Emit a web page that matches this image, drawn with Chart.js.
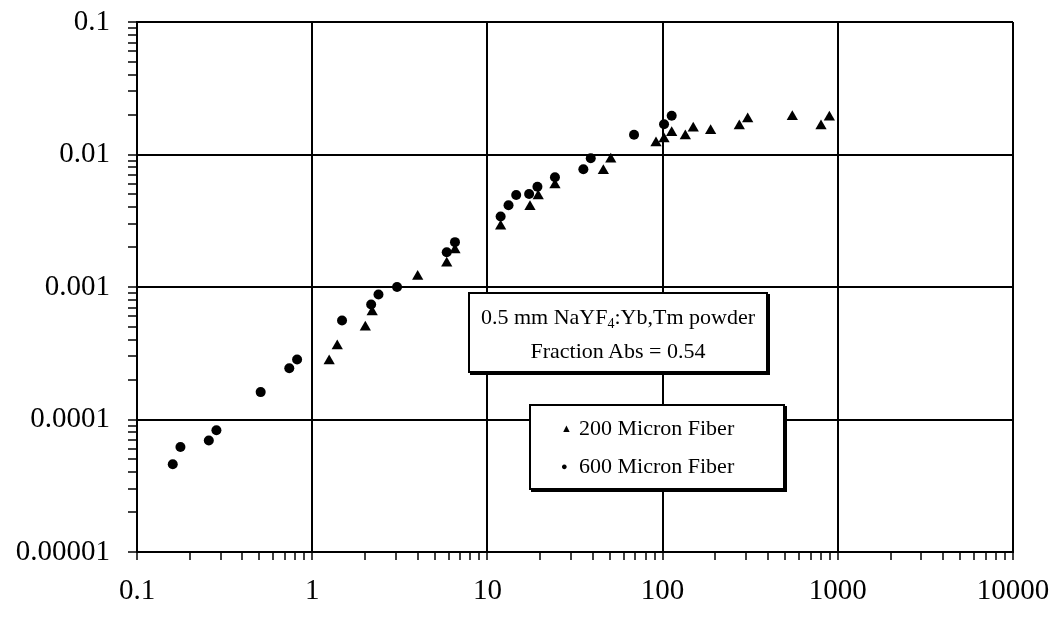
<!DOCTYPE html>
<html>
<head>
<meta charset="utf-8">
<script src="https://cdn.jsdelivr.net/npm/chart.js@4.4.1/dist/chart.umd.min.js"></script>
<style>
  html, body { margin: 0; padding: 0; background: #fff; }
  #wrap { position: relative; width: 1052px; height: 620px; }
  canvas { display: block; }
  .box {
    position: absolute; background: #fff; border: 2px solid #000;
    box-shadow: 2px 2px 0 #000; box-sizing: border-box;
    font-family: "Liberation Serif", "Times New Roman", serif; color: #000;
  }
  #note { left: 468px; top: 292px; width: 300px; height: 81px; font-size: 22px; text-align: center; line-height: 34px; padding-top: 6px; }
  #note sub { font-size: 14px; line-height: 0; vertical-align: -4px; }
  #legend { left: 529px; top: 404px; width: 256px; height: 86px; font-size: 22px; line-height: 37px; padding-top: 3px; padding-left: 30px; }
  .mk { display: inline-block; width: 18px; font-size: 11px; vertical-align: 3px; }
</style>
</head>
<body>
<div id="wrap">
  <canvas id="c" width="1052" height="620"></canvas>
  <div class="box" id="note"></div>
  <div class="box" id="legend"></div>
</div>
<script>
// ---- data ----
const fiber200X = [1.25, 1.39, 2.01, 2.2, 4.0, 5.86, 6.53, 11.9, 17.5, 19.5, 24.3, 45.9, 50.6, 91.7, 101.9, 112.7, 134.8, 149.6, 188, 274, 306, 550, 802, 895];
const fiber200Y = [2.76e-4, 3.58e-4, 4.97e-4, 6.47e-4, 1.2e-3, 1.51e-3, 1.9e-3, 2.88e-3, 4.03e-3, 4.86e-3, 5.88e-3, 7.55e-3, 9.2e-3, 0.0122, 0.0131, 0.0146, 0.0138, 0.0158, 0.0151, 0.0164, 0.0185, 0.0193, 0.0164, 0.0191];
const fiber600X = [0.16, 0.177, 0.257, 0.284, 0.508, 0.74, 0.82, 1.48, 2.17, 2.39, 3.05, 5.86, 6.53, 11.9, 13.2, 14.6, 17.3, 19.3, 24.3, 35.3, 38.9, 68.7, 101.9, 112.7];
const fiber600Y = [4.6e-5, 6.2e-5, 6.95e-5, 8.3e-5, 1.61e-4, 2.44e-4, 2.84e-4, 5.58e-4, 7.38e-4, 8.77e-4, 1.0e-3, 1.83e-3, 2.18e-3, 3.4e-3, 4.14e-3, 4.94e-3, 5.03e-3, 5.71e-3, 6.73e-3, 7.73e-3, 9.36e-3, 0.0141, 0.0169, 0.0196];
const seriesNames = ['200 Micron Fiber', '600 Micron Fiber'];
const xTickValues = [0.1, 1, 10, 100, 1000, 10000];
const xTickLabels = ['0.1', '1', '10', '100', '1000', '10000'];
const yTickValues = [0.00001, 0.0001, 0.001, 0.01, 0.1];
const yTickLabels = ['0.00001', '0.0001', '0.001', '0.01', '0.1'];
const noteLines = ['0.5 mm NaYF<sub>4</sub>:Yb,Tm powder', 'Fraction Abs = 0.54'];

// ---- overlays ----
document.getElementById('note').innerHTML = noteLines.join('<br>');
document.getElementById('legend').innerHTML =
  '<span class="mk">&#9650;</span>' + seriesNames[0] + '<br>' +
  '<span class="mk">&#9679;</span>' + seriesNames[1];

// ---- helpers ----
function isDecade(v) { const l = Math.log10(v); return Math.abs(l - Math.round(l)) < 1e-6; }
function logTicks(decades) {
  const out = [];
  for (let i = 0; i < decades.length; i++) {
    out.push({ value: decades[i] });
    if (i < decades.length - 1) for (let k = 2; k <= 9; k++) out.push({ value: +(decades[i] * k).toPrecision(6) });
  }
  return out;
}
function labelFor(values, labels) {
  return (v) => { const i = values.findIndex(d => Math.abs(Math.log10(d) - Math.log10(v)) < 1e-6); return i >= 0 ? labels[i] : ''; };
}
const FONT = { family: '"Liberation Serif", "Times New Roman", serif', size: 29 };

new Chart(document.getElementById('c'), {
  type: 'scatter',
  data: {
    datasets: [
      { label: seriesNames[0], data: fiber200X.map((x, i) => ({ x, y: fiber200Y[i] })), pointStyle: 'triangle', pointRadius: 6.5, backgroundColor: '#000', borderColor: '#000', borderWidth: 0 },
      { label: seriesNames[1], data: fiber600X.map((x, i) => ({ x, y: fiber600Y[i] })), pointStyle: 'circle', pointRadius: 5, backgroundColor: '#000', borderColor: '#000', borderWidth: 0 }
    ]
  },
  options: {
    responsive: false, animation: false, devicePixelRatio: 1,
    layout: { padding: { top: 22, right: 39, left: 0, bottom: 0 } },
    plugins: { legend: { display: false }, tooltip: { enabled: false } },
    scales: {
      x: {
        type: 'logarithmic', min: 0.1, max: 10000,
        afterBuildTicks: s => { s.ticks = logTicks(xTickValues); },
        afterFit: s => { s.height = 68; s.paddingLeft = 0; s.paddingRight = 0; },
        ticks: { autoSkip: false, maxRotation: 0, color: '#000', font: FONT, padding: 14, callback: labelFor(xTickValues, xTickLabels) },
        grid: { color: c => (c.tick && isDecade(c.tick.value)) ? '#000' : 'rgba(0,0,0,0)', lineWidth: 2, tickColor: '#000', tickWidth: 1.5, tickLength: 8 },
        border: { display: true, color: '#000', width: 2 }
      },
      y: {
        type: 'logarithmic', min: 0.00001, max: 0.1,
        afterBuildTicks: s => { s.ticks = logTicks(yTickValues); },
        afterFit: s => { s.width = 137; s.paddingTop = 0; s.paddingBottom = 0; },
        ticks: { autoSkip: false, color: '#000', font: FONT, padding: 18, callback: labelFor(yTickValues, yTickLabels) },
        grid: { color: c => (c.tick && isDecade(c.tick.value)) ? '#000' : 'rgba(0,0,0,0)', lineWidth: 2, tickColor: '#000', tickWidth: 1.5, tickLength: 9 },
        border: { display: true, color: '#000', width: 2 }
      }
    }
  }
});
</script>
</body>
</html>
